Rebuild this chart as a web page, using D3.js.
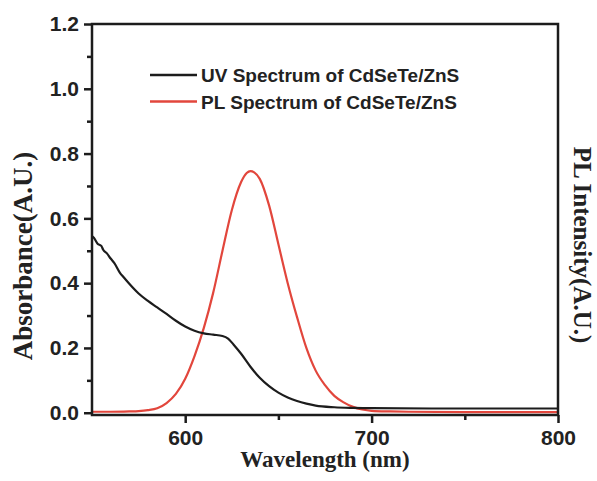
<!DOCTYPE html>
<html>
<head>
<meta charset="utf-8">
<script src="https://cdn.jsdelivr.net/npm/d3@7"></script>
<style>
body { margin: 0; background: #fff; }
svg { display: block; }
</style>
</head>
<body>
<svg></svg>
<script>
// wavelengths (nm) and absorbance of the UV curve
var uvWave = [550, 551, 553, 555, 556, 558, 560, 562, 565, 567, 570, 575, 580, 585, 590, 595, 600, 605, 610, 615, 620, 623, 626, 630, 635, 640, 645, 650, 655, 660, 665, 670, 680, 690, 700, 750, 800];
var uvAbs  = [0.545, 0.540, 0.522, 0.515, 0.503, 0.492, 0.476, 0.462, 0.432, 0.418, 0.398, 0.368, 0.345, 0.325, 0.305, 0.284, 0.266, 0.253, 0.245, 0.241, 0.237, 0.229, 0.210, 0.182, 0.142, 0.108, 0.082, 0.062, 0.047, 0.036, 0.028, 0.022, 0.017, 0.015, 0.014, 0.013, 0.013];

// wavelengths (nm) and intensity of the PL curve
var plWave = [550, 560, 570, 575, 580, 585, 590, 595, 600, 605, 610, 615, 620, 625, 630, 633, 635, 637, 640, 645, 650, 655, 660, 665, 670, 675, 680, 685, 690, 695, 700, 710, 720, 750, 800];
var plInt  = [0.003, 0.003, 0.004, 0.005, 0.008, 0.014, 0.030, 0.058, 0.105, 0.175, 0.262, 0.370, 0.500, 0.625, 0.712, 0.740, 0.746, 0.742, 0.722, 0.640, 0.520, 0.400, 0.295, 0.200, 0.130, 0.085, 0.052, 0.032, 0.018, 0.010, 0.006, 0.004, 0.003, 0.002, 0.002];

var xTicks = [600, 700, 800];
var xMinor = [650, 750];
var yTicks = [0.0, 0.2, 0.4, 0.6, 0.8, 1.0, 1.2];
var yMinor = [0.1, 0.3, 0.5, 0.7, 0.9, 1.1];

var seriesNames = ["UV Spectrum of CdSeTe/ZnS", "PL Spectrum of CdSeTe/ZnS"];
var seriesColors = ["#1c1c1c", "#e2463c"];

var screen = {width: 597, height: 481};
var margins = {top: 24, right: 39, bottom: 66, left: 92};
var width = screen.width - margins.left - margins.right;
var height = screen.height - margins.top - margins.bottom;

var svg = d3.select("svg")
    .attr("width", screen.width)
    .attr("height", screen.height);

var xScale = d3.scaleLinear().domain([550, 800]).range([0, width]);
var yScale = d3.scaleLinear().domain([-0.007, 1.2]).range([height, 0]);

var graph = svg.append("g")
    .attr("transform", "translate(" + margins.left + "," + margins.top + ")");

var lineGenerator = d3.line()
    .x(function(d) { return xScale(d[0]); })
    .y(function(d) { return yScale(d[1]); })
    .curve(d3.curveMonotoneX);

var uvData = uvWave.map(function(w, i) { return [w, uvAbs[i]]; });
var plData = plWave.map(function(w, i) { return [w, plInt[i]]; });

graph.append("path")
    .datum(plData)
    .attr("fill", "none")
    .attr("stroke", seriesColors[1])
    .attr("stroke-width", 2.2)
    .attr("d", lineGenerator);

graph.append("path")
    .datum(uvData)
    .attr("fill", "none")
    .attr("stroke", seriesColors[0])
    .attr("stroke-width", 2.2)
    .attr("d", lineGenerator);

// frame
graph.append("rect")
    .attr("width", width)
    .attr("height", height)
    .attr("fill", "none")
    .attr("stroke", "#1c1c1c")
    .attr("stroke-width", 2.5);

// axes
graph.append("g")
    .attr("transform", "translate(0," + height + ")")
    .call(d3.axisBottom(xScale).tickValues(xTicks).tickSize(8).tickPadding(7).tickFormat(d3.format("d")));
graph.append("g")
    .attr("transform", "translate(0," + height + ")")
    .call(d3.axisBottom(xScale).tickValues(xMinor).tickSize(5).tickFormat(""));

graph.append("g")
    .call(d3.axisLeft(yScale).tickValues(yTicks).tickSize(8).tickPadding(5).tickFormat(d3.format(".1f")));
graph.append("g")
    .call(d3.axisLeft(yScale).tickValues(yMinor).tickSize(5).tickFormat(""));

graph.selectAll(".domain").remove();
graph.selectAll(".tick line").attr("stroke", "#1c1c1c").attr("stroke-width", 2.5);
graph.selectAll(".tick text")
    .attr("fill", "#222")
    .style("font-family", "'Liberation Sans', Arial, sans-serif")
    .style("font-weight", "bold")
    .style("font-size", "21px");

// legend
var legend = graph.selectAll(".legend")
    .data(seriesNames)
    .enter()
    .append("g")
    .attr("transform", function(d, i) { return "translate(58," + (51 + i * 26.5) + ")"; });

legend.append("line")
    .attr("x1", 0).attr("x2", 47)
    .attr("stroke", function(d, i) { return seriesColors[i]; })
    .attr("stroke-width", 2.5);

legend.append("text")
    .attr("x", 51)
    .attr("y", 7)
    .attr("fill", "#222")
    .style("font-family", "'Liberation Sans', Arial, sans-serif")
    .style("font-weight", "bold")
    .style("font-size", "19px")
    .text(function(d) { return d; });

// axis titles
svg.append("text")
    .attr("x", margins.left + width / 2)
    .attr("y", 467)
    .attr("text-anchor", "middle")
    .attr("fill", "#222")
    .style("font-family", "'Liberation Serif', 'Times New Roman', serif")
    .style("font-weight", "bold")
    .style("font-size", "23px")
    .text("Wavelength (nm)");

svg.append("text")
    .attr("transform", "translate(32,256) rotate(-90)")
    .attr("text-anchor", "middle")
    .attr("fill", "#222")
    .style("font-family", "'Liberation Serif', 'Times New Roman', serif")
    .style("font-weight", "bold")
    .style("font-size", "27px")
    .text("Absorbance(A.U.)");

svg.append("text")
    .attr("transform", "translate(574,245) rotate(90)")
    .attr("text-anchor", "middle")
    .attr("fill", "#222")
    .style("font-family", "'Liberation Serif', 'Times New Roman', serif")
    .style("font-weight", "bold")
    .style("font-size", "25px")
    .text("PL Intensity(A.U.)");
</script>
</body>
</html>
